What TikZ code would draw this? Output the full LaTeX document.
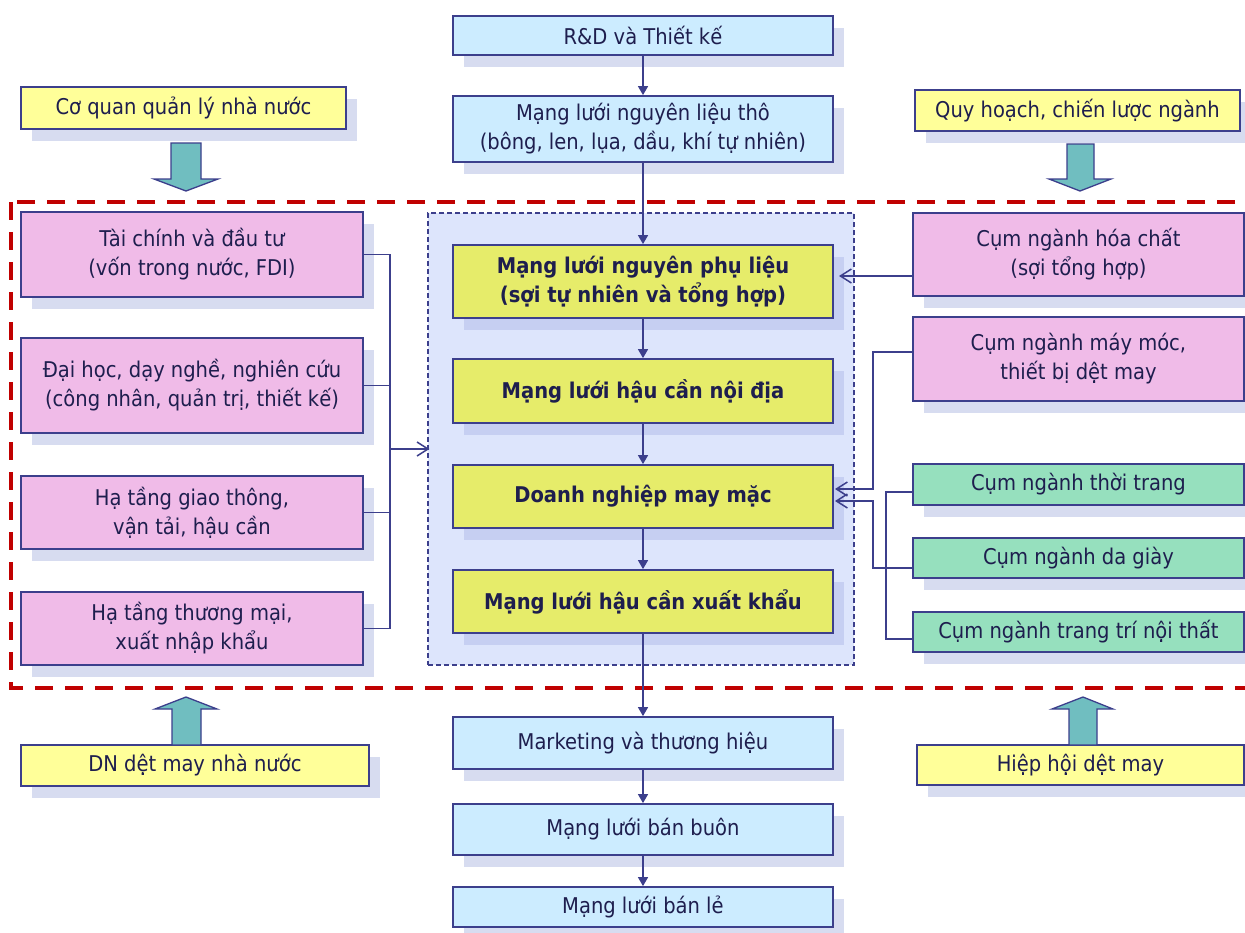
\documentclass[tikz,border=0pt]{standalone}
\usepackage{fontspec}
\setmainfont{DejaVu Sans Condensed}
\usetikzlibrary{arrows.meta,shadows}

\definecolor{navy}{HTML}{3C3F8C}
\definecolor{ink}{HTML}{1E1E4E}
\definecolor{skyfill}{HTML}{CCECFF}
\definecolor{lemon}{HTML}{FFFF99}
\definecolor{limefill}{HTML}{E6EC6A}
\definecolor{rose}{HTML}{F0BBE8}
\definecolor{mint}{HTML}{96E0BE}
\definecolor{tealfill}{HTML}{70BEC0}
\definecolor{shade}{HTML}{D7DCF0}
\definecolor{shadein}{HTML}{C6CFF2}
\definecolor{hubfill}{HTML}{DDE5FC}
\definecolor{framered}{HTML}{C00000}

% box given by its corners (x1,y1) and (x2,y2), in pixel units
\newcommand\placebox[7]{%
  \node[#1, minimum width={#5-#3}, minimum height={#6-#4}] (#2)
    at ({(#3+#5)/2},{(#4+#6)/2}) {#7};}

\tikzset{
  base/.style={draw=navy, line width=1.8pt, inner sep=0pt, align=center,
    text=ink, font=\fontsize{21.7}{29}\selectfont,
    drop shadow={shadow xshift=11pt, shadow yshift=-12pt, fill=shade, opacity=1}},
  chainbox/.style={base, fill=skyfill},
  govbox/.style={base, fill=lemon},
  resbox/.style={base, fill=rose},
  clusbox/.style={base, fill=mint},
  stagebox/.style={base, fill=limefill, font=\fontsize{21.7}{29}\selectfont\bfseries,
    drop shadow={shadow xshift=11pt, shadow yshift=-12pt, fill=shadein, opacity=1}},
  region/.style={draw=navy, line width=1.2pt, dash pattern=on 5pt off 3pt,
    fill=hubfill, inner sep=0pt},
  redframe/.style={draw=framered, line width=4pt, dash pattern=on 18pt off 12pt},
  flow/.style={draw=navy, line width=1.5pt, -{Triangle[width=10pt,length=9pt]}},
  feed/.style={draw=navy, line width=1.5pt, -{Straight Barb[width=14pt,length=11pt,line width=1.5pt]}},
  link/.style={draw=navy, line width=1.5pt},
  block/.style={draw=navy, line width=1.3pt, fill=tealfill, line join=miter}
}

\begin{document}
\begin{tikzpicture}[x=1pt, y=-1pt]
\clip (0,0) rectangle (1245,932);
\fill[white] (0,0) rectangle (1245,932);

% core production region and outer cluster frame
\placebox{region}{hub}{428}{213}{854}{665}{}
\draw[redframe] (11,202) rectangle (1262,688);

% value chain
\placebox{chainbox}{rd}{453}{16}{833}{55}{R\&D và Thiết kế}
\placebox{chainbox}{raw}{453}{96}{833}{162}{Mạng lưới nguyên liệu thô\\(bông, len, lụa, dầu, khí tự nhiên)}
\placebox{stagebox}{mat}{453}{245}{833}{318}{Mạng lưới nguyên phụ liệu\\(sợi tự nhiên và tổng hợp)}
\placebox{stagebox}{dom}{453}{359}{833}{423}{Mạng lưới hậu cần nội địa}
\placebox{stagebox}{firm}{453}{465}{833}{528}{Doanh nghiệp may mặc}
\placebox{stagebox}{exp}{453}{570}{833}{633}{Mạng lưới hậu cần xuất khẩu}
\placebox{chainbox}{mkt}{453}{717}{833}{769}{Marketing và thương hiệu}
\placebox{chainbox}{whole}{453}{804}{833}{855}{Mạng lưới bán buôn}
\placebox{chainbox}{retail}{453}{887}{833}{927}{Mạng lưới bán lẻ}

% institutions
\placebox{govbox}{state}{21}{87}{346}{129}{Cơ quan quản lý nhà nước}
\placebox{govbox}{plan}{915}{90}{1240}{131}{Quy hoạch, chiến lược ngành}
\placebox{govbox}{soe}{21}{745}{369}{786}{DN dệt may nhà nước}
\placebox{govbox}{assoc}{917}{745}{1244}{785}{Hiệp hội dệt may}

% supporting resources
\placebox{resbox}{fin}{21}{212}{363}{297}{Tài chính và đầu tư\\(vốn trong nước, FDI)}
\placebox{resbox}{edu}{21}{338}{363}{433}{Đại học, dạy nghề, nghiên cứu\\(công nhân, quản trị, thiết kế)}
\placebox{resbox}{trans}{21}{476}{363}{549}{Hạ tầng giao thông,\\vận tải, hậu cần}
\placebox{resbox}{trade}{21}{592}{363}{665}{Hạ tầng thương mại,\\xuất nhập khẩu}

% related clusters
\placebox{resbox}{chem}{913}{213}{1244}{296}{Cụm ngành hóa chất\\(sợi tổng hợp)}
\placebox{resbox}{mach}{913}{317}{1244}{401}{Cụm ngành máy móc,\\thiết bị dệt may}
\placebox{clusbox}{fash}{913}{464}{1244}{505}{Cụm ngành thời trang}
\placebox{clusbox}{leat}{913}{538}{1244}{578}{Cụm ngành da giày}
\placebox{clusbox}{deco}{913}{612}{1244}{652}{Cụm ngành trang trí nội thất}

% block arrows of institutional influence
\draw[block] (171,143) -- (201,143) -- (201,179) -- (218,179) -- (186,191) -- (154,179) -- (171,179) -- cycle;
\draw[block] (1067,144) -- (1094,144) -- (1094,179) -- (1111,179) -- (1080,191) -- (1049,179) -- (1067,179) -- cycle;
\draw[block] (172,745) -- (201,745) -- (201,709) -- (217,709) -- (186,697) -- (155,709) -- (172,709) -- cycle;
\draw[block] (1069,745) -- (1097,745) -- (1097,709) -- (1113,709) -- (1083,697) -- (1052,709) -- (1069,709) -- cycle;

% main flow
\draw[flow] (rd.south) -- (raw.north);
\draw[flow] (raw.south) -- (mat.north);
\draw[flow] (mat.south) -- (dom.north);
\draw[flow] (dom.south) -- (firm.north);
\draw[flow] (firm.south) -- (exp.north);
\draw[flow] (exp.south) -- (mkt.north);
\draw[flow] (mkt.south) -- (whole.north);
\draw[flow] (whole.south) -- (retail.north);

% resources feeding the core
\coordinate (lbus) at (390,449);
\draw[link] (fin.east) -| (lbus |- trade.east) -- (trade.east);
\draw[link] (edu.east) -- (edu.east -| lbus);
\draw[link] (trans.east) -- (trans.east -| lbus);
\draw[feed] (lbus) -- ([xshift=2pt]lbus -| hub.west);

% related clusters feeding the core
\coordinate (matin) at (839,276);
\draw[feed] (chem.west |- matin) -- (matin);
\coordinate (machy) at (913,352);
\coordinate (mjog) at (873,489);
\coordinate (firmin) at (835,489);
\draw[feed] (machy) -| (mjog) -- (firmin);
\coordinate (leaty) at (913,568);
\coordinate (ljog) at (873,501);
\coordinate (firmintwo) at (835,501);
\draw[feed] (leaty) -| (ljog) -- (firmintwo);
\coordinate (fashy) at (913,492);
\coordinate (decoy) at (913,639);
\coordinate (fdbus) at (886,492);
\draw[link] (fashy) -| (fdbus |- decoy) -- (decoy);
\end{tikzpicture}
\end{document}
